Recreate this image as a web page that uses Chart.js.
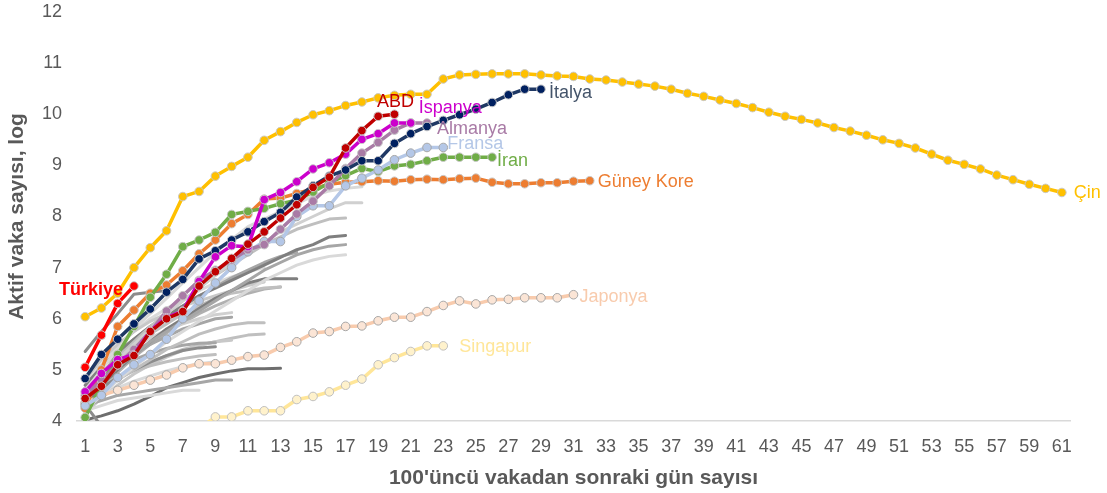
<!DOCTYPE html>
<html lang="tr">
<head>
<meta charset="utf-8">
<title>Aktif vaka sayısı</title>
<script src="https://cdn.jsdelivr.net/npm/chart.js@4.4.1/dist/chart.umd.min.js"></script>
<style>
  html, body { margin: 0; padding: 0; background: #ffffff; }
  #wrap { position: relative; width: 1107px; height: 493px; }
</style>
</head>
<body>
<div id="wrap"><canvas id="c" width="1107" height="493"></canvas></div>
<script>
// Gün sayısı (100. vakadan sonra)
const days = [1,2,3,4,5,6,7,8,9,10,11,12,13,14,15,16,17,18,19,20,21,22,23,24,25,26,27,28,29,30,
  31,32,33,34,35,36,37,38,39,40,41,42,43,44,45,46,47,48,49,50,51,52,53,54,55,56,57,58,59,60,61];

// Aktif vaka sayısı, doğal logaritma
const cin = [6.04,6.21,6.50,7.00,7.39,7.72,8.39,8.49,8.79,8.98,9.16,9.49,9.66,9.84,9.99,10.07,10.17,10.24,10.32,10.37,
  10.39,10.39,10.69,10.77,10.78,10.79,10.79,10.79,10.77,10.75,10.74,10.69,10.67,10.63,10.59,10.55,10.49,10.41,10.35,10.28,
  10.21,10.13,10.04,9.96,9.90,9.83,9.74,9.67,9.59,9.50,9.43,9.34,9.22,9.10,9.02,8.93,8.81,8.72,8.63,8.55,8.47];
const italya = [4.83,5.30,5.60,5.90,6.19,6.52,6.77,7.17,7.33,7.54,7.70,7.90,8.08,8.38,8.60,8.79,8.91,9.09,9.09,9.43,
  9.62,9.76,9.88,9.99,10.10,10.23,10.38,10.49,10.49];
const abd = [4.44,4.68,5.10,5.28,5.75,6.00,6.14,6.64,6.92,7.18,7.46,7.70,7.97,8.23,8.57,8.77,9.34,9.68,9.96,10.00];
const ispanya = [4.57,4.93,5.20,5.30,5.76,6.02,6.15,6.73,7.21,7.43,7.41,8.33,8.47,8.68,8.93,9.05,9.22,9.51,9.62,9.83,9.83];
const almanya = [4.50,4.80,5.10,5.40,5.75,6.15,6.45,6.75,6.95,7.15,7.35,7.45,7.75,8.05,8.30,8.60,8.94,9.24,9.45,9.69,9.83,9.83];
const fransa = [4.30,4.50,4.85,5.10,5.30,5.60,6.00,6.35,6.70,7.00,7.31,7.51,7.51,8.00,8.21,8.21,8.60,8.75,8.91,9.11,9.24,9.35,9.35];
const iran = [4.07,4.70,5.30,5.85,6.42,6.87,7.41,7.54,7.69,8.04,8.10,8.16,8.25,8.32,8.48,8.66,8.80,8.94,8.88,8.99,
  9.02,9.09,9.16,9.16,9.16,9.16];
const guneyKore = [4.25,5.00,5.85,6.17,6.50,6.66,6.94,7.27,7.54,7.86,8.04,8.34,8.36,8.45,8.54,8.63,8.67,8.68,8.70,8.69,
  8.72,8.73,8.72,8.74,8.75,8.67,8.64,8.64,8.66,8.66,8.69,8.70];
const japonya = [4.35,4.50,4.60,4.70,4.80,4.90,5.04,5.12,5.12,5.19,5.26,5.29,5.44,5.55,5.72,5.75,5.85,5.86,5.96,6.03,
  6.03,6.14,6.26,6.35,6.29,6.37,6.38,6.41,6.41,6.41,6.47];
const singapur = [null,null,null,null,null,null,null,3.85,4.08,4.08,4.20,4.20,4.20,4.42,4.48,4.57,4.70,4.82,5.10,5.24,
  5.36,5.47,5.47];
const turkiye = [5.05,5.68,6.30,6.64];

// Diğer ülkeler (gri)
const d01 = [4.60,5.00,5.40,5.80,6.10,6.40,6.70,7.00,7.30,7.55,7.80,7.95,8.10,8.25,8.40,8.50,8.55,8.58];
const d02 = [4.40,4.80,5.20,5.50,5.80,6.10,6.35,6.60,6.85,7.10,7.30,7.50,7.70,7.85,8.00,8.15,8.27,8.27];
const d03 = [4.50,4.90,5.25,5.55,5.85,6.10,6.35,6.60,6.85,7.05,7.25,7.45,7.60,7.75,7.85,7.95,7.97];
const d04 = [4.70,5.05,5.35,5.60,5.85,6.05,6.25,6.45,6.60,6.75,6.90,7.05,7.20,7.35,7.45,7.60,7.63];
const d05 = [4.40,4.75,5.05,5.30,5.55,5.75,5.95,6.15,6.35,6.55,6.75,6.95,7.10,7.25,7.35,7.42,7.45];
const d06 = [4.20,4.50,4.80,5.05,5.30,5.55,5.75,5.95,6.15,6.35,6.55,6.75,6.90,7.05,7.15,7.22,7.25];
const d07 = [4.30,4.70,5.00,5.30,5.55,5.80,6.00,6.20,6.40,6.55,6.70,6.78,6.78,6.78];
const d08 = [4.55,4.90,5.20,5.45,5.70,5.90,6.10,6.25,6.40,6.50,6.55,6.60,6.62];
const d09 = [4.50,4.80,5.05,5.30,5.50,5.65,5.80,5.90,6.00,6.03];
const d10 = [4.30,4.55,4.80,5.00,5.20,5.40,5.55,5.70,5.80,5.88,5.92,5.92];
const d11 = [4.60,4.85,5.05,5.20,5.32,5.42,5.48,5.52,5.53];
const d12 = [4.40,4.65,4.85,5.00,5.15,5.28,5.38,5.43,5.45];
const d13 = [4.50,4.70,4.85,4.98,5.08,5.16,5.22,5.27,5.30];
const d14 = [4.30,4.50,4.65,4.78,4.88,4.98,5.06,5.12,5.16];
const d15 = [4.30,4.40,4.50,4.55,4.60,4.65,4.70,4.75,4.80,4.80];
const d16 = [4.20,4.30,4.40,4.45,4.50,4.55,4.60,4.60];
const d17 = [4.32,3.90,3.70];
const d18 = [4.02,4.10,4.20,4.33,4.48,4.65,4.75,4.85,4.92,4.98,5.02,5.02,5.03];
const d19 = [5.36,5.75,6.10,6.48,6.52,6.55];
const d20 = [4.80,5.20,5.50,5.75,5.95,6.10,6.25,6.35,6.45,6.55,6.65,6.72];
const d21 = [4.45,4.90,5.30,5.60,5.85,6.05,6.25,6.45,6.62,6.80,6.95,7.10,7.22,7.30];
const d22 = [4.65,4.95,5.20,5.45,5.62,5.78,5.90,6.00,6.08,6.12];
const d23 = [4.25,4.60,4.95,5.25,5.50,5.72,5.92,6.10,6.25,6.38,6.50,6.58,6.62];
const d24 = [4.15,4.45,4.70,4.92,5.10,5.25,5.38,5.48,5.55,5.58];
const d25 = [4.70,5.10,5.45,5.75,6.00,6.20,6.38,6.55,6.70,6.82,6.92,7.00];
const d26 = [4.35,4.60,4.82,5.00,5.15,5.28,5.40,5.48,5.55,5.62,5.68,5.70];

const grays = [
  [d01,'#D9D9D9'],[d02,'#D0D0D0'],[d03,'#BFBFBF'],[d04,'#7F7F7F'],[d05,'#A6A6A6'],[d06,'#D9D9D9'],
  [d07,'#7F7F7F'],[d08,'#BFBFBF'],[d09,'#A6A6A6'],[d10,'#BFBFBF'],[d11,'#A6A6A6'],[d12,'#8C8C8C'],
  [d13,'#BFBFBF'],[d14,'#D9D9D9'],[d15,'#A6A6A6'],[d16,'#D9D9D9'],[d17,'#8C8C8C'],[d18,'#6E6E6E'],
  [d19,'#8C8C8C'],[d20,'#C8C8C8'],[d21,'#A6A6A6'],[d22,'#D0D0D0'],[d23,'#B0B0B0'],[d24,'#C8C8C8'],
  [d25,'#DADADA'],[d26,'#BFBFBF']
];

function series(label, data, color, opts) {
  return Object.assign({
    label, data,
    borderColor: color,
    backgroundColor: color,
    borderWidth: 3.5,
    pointRadius: 4.3,
    pointBorderWidth: 1,
    pointBorderColor: '#C8C8C8',
    pointBackgroundColor: color,
    tension: 0,
    spanGaps: false
  }, opts || {});
}

const FONT = '"Liberation Sans", Arial, sans-serif';

const datasets = [
  series('Çin', cin, '#FFC000', { endLabel: { text: 'Çin', dx: 12, dy: 1, color: '#FFC000' } }),
  series('Türkiye', turkiye, '#FF0000', { endLabel: { text: 'Türkiye', dx: -11, dy: 4, align: 'right', color: '#FF0000', bold: true } }),
  series('ABD', abd, '#C00000', { endLabel: { text: 'ABD', dx: 1, dy: -12, align: 'center', color: '#C00000' } }),
  series('İspanya', ispanya, '#CC00CC', { endLabel: { text: 'İspanya', dx: 8, dy: -15, color: '#CC00CC' } }),
  series('İtalya', italya, '#1F3864', { pointBackgroundColor: '#002060', endLabel: { text: 'İtalya', dx: 8, dy: 4, color: '#44546A' } }),
  series('Almanya', almanya, '#A97BA6', { endLabel: { text: 'Almanya', dx: 10, dy: 6, color: '#A97BA6' } }),
  series('Fransa', fransa, '#B4C7E7', { pointBorderColor: '#A6A6A6', endLabel: { text: 'Fransa', dx: 4, dy: -3, color: '#B4C7E7' } }),
  series('İran', iran, '#70AD47', { endLabel: { text: 'İran', dx: 5, dy: 4, color: '#70AD47' } }),
  series('Güney Kore', guneyKore, '#ED7D31', { endLabel: { text: 'Güney Kore', dx: 8, dy: 1, color: '#ED7D31' } }),
  series('Japonya', japonya, '#F8CBAD', { pointBackgroundColor: '#FBE5D6', pointBorderColor: '#A6A6A6', endLabel: { text: 'Japonya', dx: 6, dy: 2, color: '#F8CBAD' } }),
  series('Singapur', singapur, '#FFE699', { pointBackgroundColor: '#FFF2CC', pointBorderColor: '#BFBFBF', endLabel: { text: 'Singapur', dx: 16, dy: 1, color: '#FFE699' } })
];

grays.forEach(([data, color], i) => {
  datasets.push({
    label: 'diğer ' + (i + 1), data,
    borderColor: color, backgroundColor: color,
    borderWidth: 3, pointRadius: 0, tension: 0
  });
});

// Serilerin son noktasının yanına ülke adı yazar
const endLabels = {
  id: 'endLabels',
  afterDatasetsDraw(chart) {
    const ctx = chart.ctx;
    chart.data.datasets.forEach((ds, i) => {
      if (!ds.endLabel) return;
      const meta = chart.getDatasetMeta(i);
      let idx = ds.data.length - 1;
      while (idx >= 0 && ds.data[idx] == null) idx--;
      const pt = meta.data[idx];
      if (!pt) return;
      const L = ds.endLabel;
      ctx.save();
      ctx.font = (L.bold ? 'bold ' : '') + '18px ' + FONT;
      ctx.fillStyle = L.color;
      ctx.textAlign = L.align || 'left';
      ctx.textBaseline = 'middle';
      ctx.fillText(L.text, pt.x + L.dx, pt.y + L.dy);
      ctx.restore();
    });
  }
};

new Chart(document.getElementById('c'), {
  type: 'line',
  data: { labels: days, datasets },
  plugins: [endLabels],
  options: {
    responsive: false,
    animation: false,
    devicePixelRatio: 1,
    layout: { padding: { top: 12, right: 37, left: 0, bottom: 0 } },
    plugins: { legend: { display: false }, tooltip: { enabled: false } },
    elements: { line: { borderCapStyle: 'round', borderJoinStyle: 'round' } },
    scales: {
      x: {
        type: 'category',
        offset: true,
        grid: { display: false, drawTicks: false, tickLength: 0 },
        border: { display: true, color: '#D9D9D9', width: 1.5 },
        ticks: {
          autoSkip: false, maxRotation: 0, padding: 15,
          color: '#595959', font: { family: FONT, size: 18 },
          callback: function (v, i) { return i % 2 === 0 ? this.getLabelForValue(v) : ''; }
        },
        title: {
          display: true, text: "100'üncü vakadan sonraki gün sayısı",
          color: '#595959', font: { family: FONT, size: 21, weight: 'bold' },
          padding: { top: 4, bottom: 2 }
        },
        afterFit(scale) { scale.height = 72; scale.paddingLeft = 0; scale.paddingRight = 0; }
      },
      y: {
        min: 4, max: 12,
        grid: { display: false, drawTicks: false, tickLength: 0 },
        border: { display: false },
        ticks: {
          stepSize: 1, padding: 15,
          color: '#595959', font: { family: FONT, size: 18 }
        },
        title: {
          display: true, text: 'Aktif vaka sayısı, log',
          color: '#595959', font: { family: FONT, size: 21, weight: 'bold' },
          padding: { top: 5, bottom: 0 }
        },
        afterFit(scale) { scale.width = 77; scale.paddingTop = 0; scale.paddingBottom = 0; }
      }
    }
  }
});
</script>
</body>
</html>
